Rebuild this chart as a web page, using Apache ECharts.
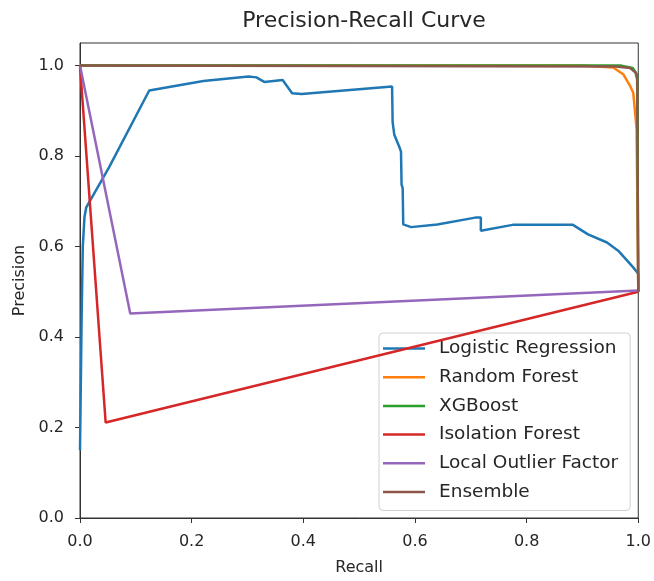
<!DOCTYPE html>
<html>
<head>
<meta charset="utf-8">
<script src="https://cdn.jsdelivr.net/npm/echarts@6/dist/echarts.min.js"></script>
<style>
  html, body { margin: 0; padding: 0; background: #fff; }
  #chart { width: 654px; height: 581px; }
</style>
</head>
<body>
<div id="chart"></div>
<script>
// series names and colours (matplotlib tab10)
const seriesNames = ['Logistic Regression', 'Random Forest', 'XGBoost', 'Isolation Forest', 'Local Outlier Factor', 'Ensemble'];
const seriesColors = ['#1f77b4', '#ff7f0e', '#2ca02c', '#d62728', '#9467bd', '#8c564b'];

// values: recall / precision pairs
const lrRecall    = [0, 0.003, 0.005, 0.008, 0.011, 0.052, 0.124, 0.221, 0.302, 0.316, 0.33, 0.363, 0.37, 0.38, 0.397, 0.559, 0.56, 0.563, 0.572, 0.575, 0.576, 0.578, 0.579, 0.593, 0.64, 0.708, 0.718, 0.718, 0.775, 0.883, 0.91, 0.944, 0.964, 0.991, 1.0, 1.0];
const lrPrecision = [0.15, 0.45, 0.6, 0.665, 0.686, 0.775, 0.945, 0.966, 0.976, 0.974, 0.964, 0.968, 0.956, 0.939, 0.937, 0.954, 0.875, 0.847, 0.82, 0.81, 0.737, 0.729, 0.649, 0.643, 0.649, 0.664, 0.664, 0.635, 0.648, 0.648, 0.627, 0.609, 0.591, 0.554, 0.54, 0.5];

const rfRecall    = [0, 0.9, 0.955, 0.973, 0.985, 0.991, 0.997, 1.0];
const rfPrecision = [1.0, 1.0, 0.996, 0.981, 0.956, 0.94, 0.86, 0.5];

const xgbRecall    = [0, 0.97, 0.99, 0.998, 1.0];
const xgbPrecision = [1.0, 1.0, 0.995, 0.98, 0.5];

const ifRecall    = [0, 0.046, 1.0];
const ifPrecision = [1.0, 0.211, 0.5];

const lofRecall    = [0, 0.09, 1.0];
const lofPrecision = [1.0, 0.452, 0.503];

const ensRecall    = [0, 0.96, 0.985, 0.995, 0.998, 1.0];
const ensPrecision = [1.0, 0.998, 0.995, 0.985, 0.97, 0.5];

const tickValues = [0, 0.2, 0.4, 0.6, 0.8, 1.0];

const curves = [
  [lrRecall, lrPrecision],
  [rfRecall, rfPrecision],
  [xgbRecall, xgbPrecision],
  [ifRecall, ifPrecision],
  [lofRecall, lofPrecision],
  [ensRecall, ensPrecision]
];

const font = 'DejaVu Sans';
const textColor = '#262626';

const chart = echarts.init(document.getElementById('chart'), null, { renderer: 'canvas' });

const axisCommon = {
  type: 'value',
  interval: 0.2,
  axisLine: { show: true, lineStyle: { color: '#333', width: 1 } },
  axisTick: { show: true, length: 5, inside: false, lineStyle: { color: '#333' }, customValues: tickValues },
  axisLabel: {
    color: textColor, fontSize: 16, fontFamily: font,
    customValues: tickValues,
    formatter: v => v.toFixed(1)
  },
  splitLine: { show: false },
  nameTextStyle: { color: textColor, fontSize: 16, fontFamily: font }
};

const option = {
  animation: false,
  backgroundColor: '#fff',
  title: {
    text: 'Precision-Recall Curve',
    left: 359,
    top: 5,
    textAlign: 'center',
    textStyle: { color: textColor, fontSize: 22, fontWeight: 'normal', fontFamily: font }
  },
  grid: {
    left: 80, right: 13, top: 43, bottom: 61,
    show: true, borderColor: '#333', borderWidth: 1
  },
  xAxis: Object.assign({}, axisCommon, {
    min: 0, max: 1,
    name: 'Recall', nameLocation: 'middle', nameGap: 42,
    axisLabel: Object.assign({}, axisCommon.axisLabel, { margin: 16 })
  }),
  yAxis: Object.assign({}, axisCommon, {
    min: 0, max: 1.05,
    name: 'Precision', nameLocation: 'middle', nameGap: 52,
    axisLabel: Object.assign({}, axisCommon.axisLabel, { margin: 16 })
  }),
  legend: {
    data: seriesNames,
    orient: 'vertical',
    left: 379,
    top: 333,
    padding: [5, 12, 8, 4],
    itemWidth: 42,
    itemHeight: 2.5,
    itemGap: 7.7,
    icon: 'rect',
    backgroundColor: 'rgba(255,255,255,0.8)',
    borderColor: '#d0d0d0',
    borderWidth: 1,
    borderRadius: 4,
    textStyle: { color: textColor, fontSize: 18.5, fontFamily: font, lineHeight: 21, padding: [0, 0, 0, 9] }
  },
  series: curves.map((c, i) => ({
    name: seriesNames[i],
    type: 'line',
    data: c[0].map((r, j) => [r, c[1][j]]),
    symbol: 'none',
    showSymbol: false,
    color: seriesColors[i],
    lineStyle: { color: seriesColors[i], width: 2.5 },
    itemStyle: { color: seriesColors[i] },
    z: 2 + i
  }))
};

chart.setOption(option);
</script>
</body>
</html>
